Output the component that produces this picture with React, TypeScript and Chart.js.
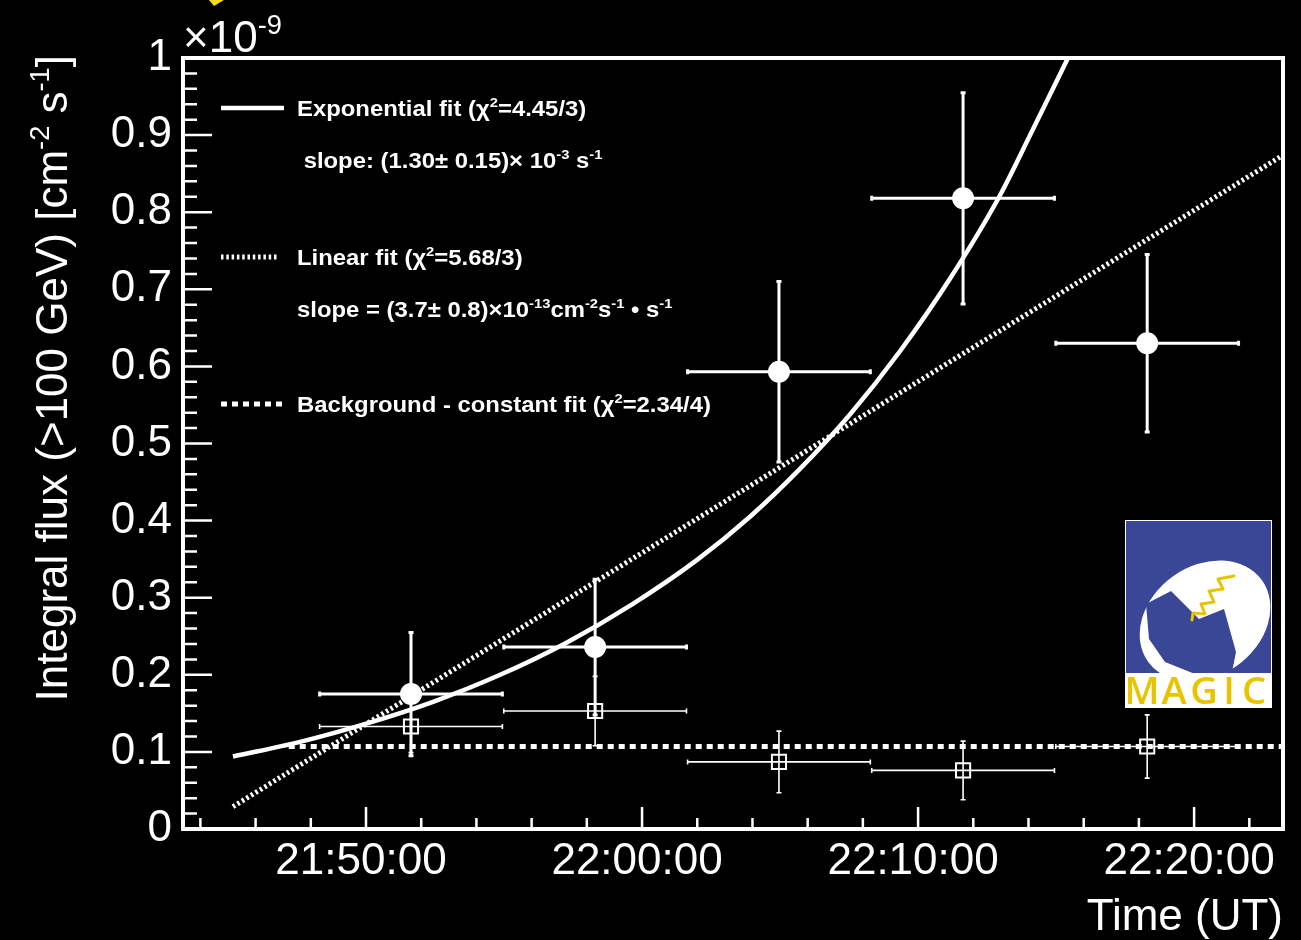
import React, { useEffect, useRef } from "react";
import { Chart, registerables } from "chart.js";

Chart.register(...registerables);

// ---- axis definitions (x in minutes after 21:00 UT) ----
const xMin = 43.37;
const xMax = 83.22;
const xTickValues = [50, 60, 70, 80];
const xTickLabels = ["21:50:00", "22:00:00", "22:10:00", "22:20:00"];
const xMinorTicks = [44, 46, 48, 52, 54, 56, 58, 62, 64, 66, 68, 72, 74, 76, 78, 82];
const yTickValues = [0, 0.1, 0.2, 0.3, 0.4, 0.5, 0.6, 0.7, 0.8, 0.9, 1];
const yTickLabels = ["0", "0.1", "0.2", "0.3", "0.4", "0.5", "0.6", "0.7", "0.8", "0.9", "1"];
const yMinorTicks = [
  0.02, 0.04, 0.06, 0.08, 0.12, 0.14, 0.16, 0.18, 0.22, 0.24, 0.26, 0.28,
  0.32, 0.34, 0.36, 0.38, 0.42, 0.44, 0.46, 0.48, 0.52, 0.54, 0.56, 0.58,
  0.62, 0.64, 0.66, 0.68, 0.72, 0.74, 0.76, 0.78, 0.82, 0.84, 0.86, 0.88,
  0.92, 0.94, 0.96, 0.98,
];

// ---- data (flux in units of 1e-9 cm^-2 s^-1) ----
const binCenters = [51.63, 58.3, 64.96, 71.63, 78.3];
const binHalfWidths = [3.31, 3.31, 3.31, 3.31, 3.31];
const signalFlux = [0.175, 0.236, 0.593, 0.818, 0.63];
const signalErr = [0.08, 0.088, 0.117, 0.137, 0.115];
const bgFlux = [0.133, 0.153, 0.087, 0.076, 0.107];
const bgErr = [0.034, 0.045, 0.04, 0.038, 0.041];

// ---- fit curves ----
const expFitTime = [45.18, 47.61, 50.04, 52.43, 54.86, 57.28, 59.67, 62.03, 63.91, 65.72, 67.54, 69.35, 71.16, 72.97, 74.06, 75.43];
const expFitFlux = [0.094, 0.113, 0.137, 0.165, 0.2, 0.242, 0.292, 0.35, 0.405, 0.467, 0.538, 0.62, 0.714, 0.822, 0.9, 1.0];
const linFitTime = [45.18, 83.22];
const linFitFlux = [0.029, 0.874];
const bgFitTime = [47.2, 83.22];
const bgFitFlux = [0.107, 0.107];

const FONT = '"Liberation Sans", Arial, Helvetica, sans-serif';

type Part = { t: string; sup?: boolean };

function drawRich(ctx: CanvasRenderingContext2D, parts: Part[], x: number, y: number, size: number, weight: string, align: "left" | "right" = "left", sx = 1) {
  const supSize = size * 0.62;
  const widths = parts.map((p) => {
    ctx.font = `${weight} ${p.sup ? supSize : size}px ${FONT}`;
    return ctx.measureText(p.t).width;
  });
  const total = widths.reduce((a, b) => a + b, 0);
  ctx.save();
  ctx.translate(x, y);
  ctx.scale(sx, 1);
  let cx = align === "right" ? -total : 0;
  ctx.textAlign = "left";
  ctx.textBaseline = "alphabetic";
  parts.forEach((p, i) => {
    ctx.font = `${weight} ${p.sup ? supSize : size}px ${FONT}`;
    ctx.fillText(p.t, cx, p.sup ? -size * 0.42 : 0);
    cx += widths[i];
  });
  ctx.restore();
}

const legendLines: { parts: Part[]; x: number; y: number }[] = [
  { parts: [{ t: "Exponential fit (χ" }, { t: "2", sup: true }, { t: "=4.45/3)" }], x: 297, y: 116 },
  { parts: [{ t: " slope: (1.30± 0.15)× 10" }, { t: "-3", sup: true }, { t: " s" }, { t: "-1", sup: true }], x: 297, y: 168 },
  { parts: [{ t: "Linear fit (χ" }, { t: "2", sup: true }, { t: "=5.68/3)" }], x: 297, y: 265 },
  { parts: [{ t: "slope = (3.7± 0.8)×10" }, { t: "-13", sup: true }, { t: "cm" }, { t: "-2", sup: true }, { t: "s" }, { t: "-1", sup: true }, { t: " • s" }, { t: "-1", sup: true }], x: 297, y: 317 },
  { parts: [{ t: "Background - constant fit (χ" }, { t: "2", sup: true }, { t: "=2.34/4)" }], x: 297, y: 412 },
];

function drawLogo(ctx: CanvasRenderingContext2D) {
  const L = 1125, T = 520, R = 1272, B = 708;
  ctx.save();
  ctx.fillStyle = "#ffffff";
  ctx.fillRect(L, T, R - L, B - T);
  ctx.fillStyle = "rgb(58,70,150)";
  ctx.fillRect(L + 1, T + 1, R - L - 2, 152);
  ctx.beginPath();
  ctx.rect(L + 1, T + 1, R - L - 2, 152);
  ctx.clip();
  // egg
  ctx.fillStyle = "#ffffff";
  ctx.beginPath();
  ctx.ellipse(1205, 621, 70, 55, -0.62, 0, Math.PI * 2);
  ctx.fill();
  // mirror
  ctx.fillStyle = "rgb(58,70,150)";
  ctx.beginPath();
  const poly = [[1146, 604], [1171, 591], [1199, 619], [1224, 609], [1236, 652], [1232, 672], [1200, 676], [1165, 662], [1149, 639]];
  poly.forEach(([px, py], i) => (i ? ctx.lineTo(px, py) : ctx.moveTo(px, py)));
  ctx.closePath();
  ctx.fill();
  // squiggle
  ctx.strokeStyle = "rgb(232,196,0)";
  ctx.lineWidth = 3;
  ctx.lineJoin = "round";
  ctx.lineCap = "round";
  ctx.beginPath();
  const sq = [[1192, 620], [1193, 613], [1205, 614], [1201, 604], [1214, 602], [1209, 591], [1223, 589], [1218, 579], [1234, 576]];
  sq.forEach(([px, py], i) => (i ? ctx.lineTo(px, py) : ctx.moveTo(px, py)));
  ctx.stroke();
  ctx.restore();
  // MAGIC text
  ctx.save();
  ctx.fillStyle = "rgb(232,196,0)";
  ctx.font = `600 38px "Open Sans", ${FONT}`;
  ctx.textBaseline = "alphabetic";
  ctx.textAlign = "center";
  const letters = ["M", "A", "G", "I", "C"];
  const cxs = [1142, 1174, 1204, 1229, 1254];
  letters.forEach((l, i) => ctx.fillText(l, cxs[i], 704));
  ctx.restore();
}

const decorPlugin = {
  id: "decor",
  beforeDraw(chart: any) {
    const ctx = chart.ctx as CanvasRenderingContext2D;
    ctx.save();
    ctx.fillStyle = "#000";
    ctx.fillRect(0, 0, chart.width, chart.height);
    ctx.restore();
  },
  beforeDatasetsDraw(chart: any) {
    const ctx = chart.ctx as CanvasRenderingContext2D;
    const xs = chart.scales.x, ys = chart.scales.y;
    const drawErr = (vals: number[], errs: number[], lw: number, cap: number) => {
      ctx.save();
      ctx.strokeStyle = "#fff";
      ctx.lineWidth = lw;
      ctx.lineCap = "butt";
      vals.forEach((v, i) => {
        const cx = xs.getPixelForValue(binCenters[i]);
        const cy = ys.getPixelForValue(v);
        const x0 = xs.getPixelForValue(binCenters[i] - binHalfWidths[i]);
        const x1 = xs.getPixelForValue(binCenters[i] + binHalfWidths[i]);
        const y0 = ys.getPixelForValue(v - errs[i]);
        const y1 = ys.getPixelForValue(v + errs[i]);
        ctx.beginPath();
        ctx.moveTo(x0, cy); ctx.lineTo(x1, cy);
        ctx.moveTo(cx, y0); ctx.lineTo(cx, y1);
        ctx.moveTo(x0, cy - cap); ctx.lineTo(x0, cy + cap);
        ctx.moveTo(x1, cy - cap); ctx.lineTo(x1, cy + cap);
        ctx.moveTo(cx - cap, y0); ctx.lineTo(cx + cap, y0);
        ctx.moveTo(cx - cap, y1); ctx.lineTo(cx + cap, y1);
        ctx.stroke();
      });
      ctx.restore();
    };
    drawErr(bgFlux, bgErr, 1.6, 2.5);
    drawErr(signalFlux, signalErr, 3, 2.5);
  },
  afterDraw(chart: any) {
    const ctx = chart.ctx as CanvasRenderingContext2D;
    const { left, right, top, bottom } = chart.chartArea;
    const xs = chart.scales.x, ys = chart.scales.y;
    ctx.save();
    ctx.strokeStyle = "#fff";
    // inward ticks
    ctx.lineWidth = 2.5;
    ctx.beginPath();
    xTickValues.forEach((v) => { const px = xs.getPixelForValue(v); ctx.moveTo(px, bottom); ctx.lineTo(px, bottom - 22); });
    xMinorTicks.forEach((v) => { const px = xs.getPixelForValue(v); ctx.moveTo(px, bottom); ctx.lineTo(px, bottom - 11); });
    yTickValues.forEach((v) => { const py = ys.getPixelForValue(v); ctx.moveTo(left, py); ctx.lineTo(left + 29, py); });
    yMinorTicks.forEach((v) => { const py = ys.getPixelForValue(v); ctx.moveTo(left, py); ctx.lineTo(left + 14, py); });
    ctx.stroke();
    // frame
    ctx.lineWidth = 4;
    ctx.strokeRect(left, top, right - left, bottom - top);

    // exponent label
    ctx.fillStyle = "#fff";
    drawRich(ctx, [{ t: "×10" }, { t: "-9", sup: true }], 183, 52, 44, "normal");

    // y title (rotated)
    ctx.save();
    ctx.translate(0, 55);
    ctx.rotate(-Math.PI / 2);
    drawRich(ctx, [{ t: "Integral flux (>100 GeV) [cm" }, { t: "-2", sup: true }, { t: " s" }, { t: "-1", sup: true }, { t: "]" }], 0, 67, 44, "normal", "right");
    ctx.restore();

    // legend samples
    ctx.lineWidth = 4.5;
    ctx.beginPath(); ctx.moveTo(221, 108); ctx.lineTo(284, 108); ctx.stroke();
    ctx.lineWidth = 5;
    ctx.setLineDash([2.5, 2.8]);
    ctx.beginPath(); ctx.moveTo(221, 257); ctx.lineTo(279, 257); ctx.stroke();
    ctx.lineWidth = 5;
    ctx.setLineDash([6, 5]);
    ctx.beginPath(); ctx.moveTo(221, 404); ctx.lineTo(286, 404); ctx.stroke();
    ctx.setLineDash([]);
    legendLines.forEach((l) => drawRich(ctx, l.parts, l.x, l.y, 22, "bold", "left", 1.085));

    // yellow fragment at top
    ctx.fillStyle = "rgb(245,220,20)";
    ctx.beginPath(); ctx.moveTo(209, 0); ctx.lineTo(224, 0); ctx.lineTo(214, 6); ctx.closePath(); ctx.fill();
    ctx.restore();

    drawLogo(ctx);
  },
};

export default function App() {
  const ref = useRef<HTMLCanvasElement | null>(null);
  useEffect(() => {
    if (!ref.current) return;
    const pts = (xs: number[], ys: number[]) => xs.map((x, i) => ({ x, y: ys[i] }));
    const chart = new Chart(ref.current, {
      type: "scatter",
      data: {
        datasets: [
          {
            label: "Signal",
            data: pts(binCenters, signalFlux),
            pointStyle: "circle",
            pointRadius: 11,
            backgroundColor: "#fff",
            borderColor: "#fff",
            borderWidth: 0,
            order: 0,
          } as any,
          {
            label: "Background",
            data: pts(binCenters, bgFlux),
            pointStyle: "rect",
            pointRadius: 10,
            backgroundColor: "rgba(0,0,0,0)",
            borderColor: "#fff",
            borderWidth: 2,
            order: 1,
          } as any,
          {
            type: "line",
            label: "Exponential fit",
            data: pts(expFitTime, expFitFlux),
            showLine: true,
            borderColor: "#fff",
            borderWidth: 4.5,
            pointRadius: 0,
            cubicInterpolationMode: "monotone",
            fill: false,
            order: 2,
          } as any,
          {
            type: "line",
            label: "Linear fit",
            data: pts(linFitTime, linFitFlux),
            showLine: true,
            borderColor: "#fff",
            borderWidth: 5,
            borderDash: [2.5, 2.8],
            pointRadius: 0,
            fill: false,
            order: 3,
          } as any,
          {
            type: "line",
            label: "Background - constant fit",
            data: pts(bgFitTime, bgFitFlux),
            showLine: true,
            borderColor: "#fff",
            borderWidth: 5,
            borderDash: [6, 5],
            pointRadius: 0,
            fill: false,
            order: 4,
          } as any,
        ],
      },
      options: {
        responsive: false,
        animation: false,
        devicePixelRatio: 1,
        layout: { padding: { top: 58, right: 18, left: 0, bottom: 0 } },
        plugins: { legend: { display: false }, tooltip: { enabled: false } },
        scales: {
          x: {
            type: "linear",
            min: xMin,
            max: xMax,
            grid: { display: false, drawTicks: false },
            border: { display: false },
            afterBuildTicks: (s: any) => { s.ticks = xTickValues.map((v) => ({ value: v })); },
            afterFit: (s: any) => { s.height = 111; },
            ticks: {
              color: "#fff",
              autoSkip: false,
              maxRotation: 0,
              padding: 6,
              labelOffset: -5,
              font: { family: FONT, size: 44 },
              callback: (v: any) => { const i = xTickValues.indexOf(Number(v)); return i >= 0 ? xTickLabels[i] : ""; },
            },
            title: {
              display: true,
              text: "Time (UT)",
              align: "end",
              color: "#fff",
              padding: { top: 0, bottom: 0 },
              font: { family: FONT, size: 44, lineHeight: 1.0 },
            },
          },
          y: {
            type: "linear",
            min: 0,
            max: 1,
            grid: { display: false, drawTicks: false },
            border: { display: false },
            afterBuildTicks: (s: any) => { s.ticks = yTickValues.map((v) => ({ value: v })); },
            afterFit: (s: any) => { s.width = 183; },
            ticks: {
              color: "#fff",
              autoSkip: false,
              padding: 11,
              font: { family: FONT, size: 44 },
              callback: (v: any) => { const i = yTickValues.findIndex((t) => Math.abs(t - Number(v)) < 1e-9); return i >= 0 ? yTickLabels[i] : ""; },
            },
          },
        },
      } as any,
      plugins: [decorPlugin],
    });
    return () => chart.destroy();
  }, []);
  return (
    <div style={{ position: "fixed", left: 0, top: 0, width: 1301, height: 940, background: "#000" }}>
      <canvas ref={ref} width={1301} height={940} style={{ width: 1301, height: 940, display: "block" }} />
    </div>
  );
}
